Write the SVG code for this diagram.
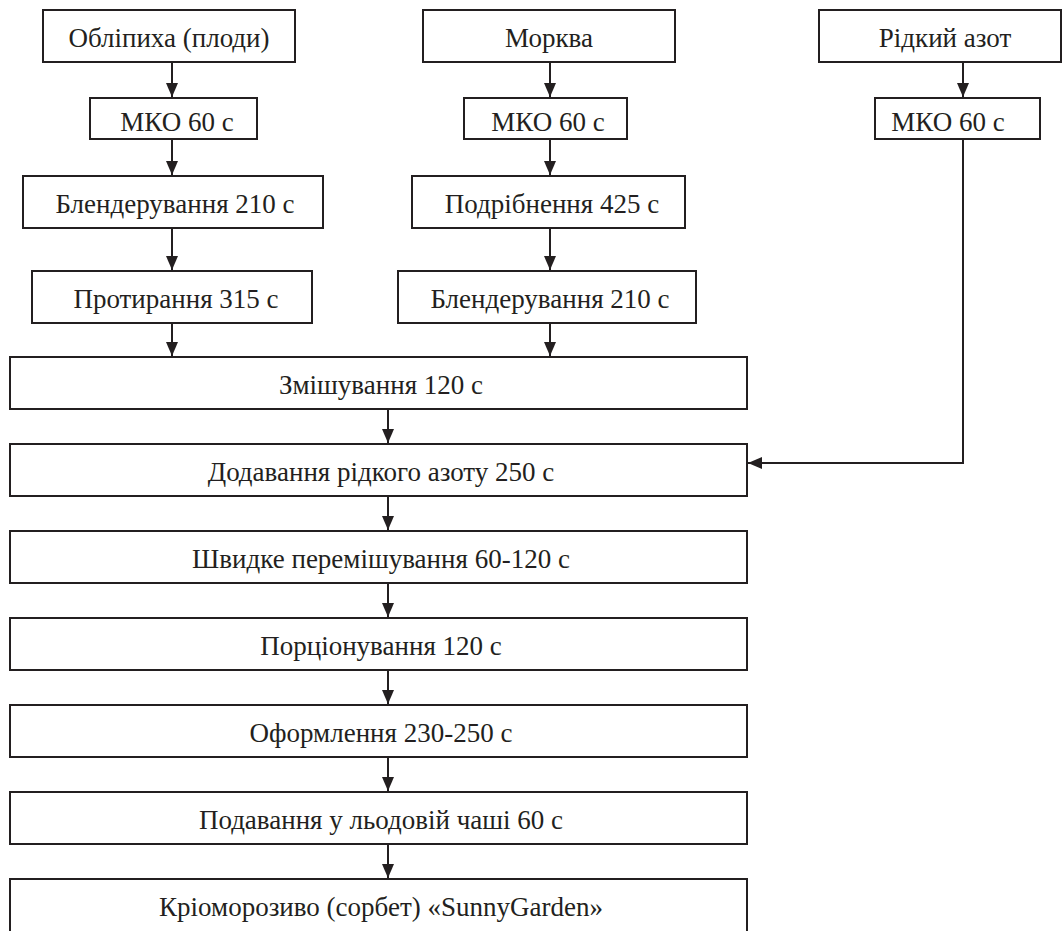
<svg xmlns="http://www.w3.org/2000/svg" width="1062" height="931" viewBox="0 0 1062 931">
<defs>
<style>
rect{fill:#fff;stroke:#231f20;stroke-width:2}
text{font-family:"Liberation Serif","Times New Roman",serif;font-size:27px;fill:#231f20;text-anchor:middle}
.c{fill:none;stroke:#231f20;stroke-width:2;marker-end:url(#ah)}
</style>
<marker id="ah" markerUnits="userSpaceOnUse" markerWidth="14" markerHeight="12" refX="14" refY="6" orient="auto">
<path d="M0,0 L14,6 L0,12 z" fill="#231f20"/>
</marker>
</defs>
<rect x="0" y="0" width="1062" height="931" style="stroke:none"/>
<g id="connectors">
<line class="c" x1="172" y1="62" x2="172" y2="97"/>
<line class="c" x1="172" y1="139" x2="172" y2="175"/>
<line class="c" x1="172" y1="228" x2="172" y2="270"/>
<line class="c" x1="172" y1="323" x2="172" y2="356"/>
<line class="c" x1="550" y1="62" x2="550" y2="97"/>
<line class="c" x1="550" y1="139" x2="550" y2="175"/>
<line class="c" x1="550" y1="228" x2="550" y2="270"/>
<line class="c" x1="550" y1="323" x2="550" y2="356"/>
<line class="c" x1="963" y1="62" x2="963" y2="97"/>
<polyline class="c" points="963,139 963,463 748,463"/>
<line class="c" x1="388" y1="409" x2="388" y2="443"/>
<line class="c" x1="388" y1="496" x2="388" y2="530"/>
<line class="c" x1="388" y1="583" x2="388" y2="617"/>
<line class="c" x1="388" y1="670" x2="388" y2="704"/>
<line class="c" x1="388" y1="757" x2="388" y2="791"/>
<line class="c" x1="388" y1="844" x2="388" y2="878"/>
</g>
<g id="n1"><rect x="43" y="10" width="252" height="52"/><text x="169" y="47">Обліпиха (плоди)</text></g>
<g id="n2"><rect x="90" y="98" width="167" height="41"/><text x="177" y="131">МКО 60 с</text></g>
<g id="n3"><rect x="23" y="176" width="300" height="52"/><text x="175" y="213">Блендерування 210 с</text></g>
<g id="n4"><rect x="32" y="271" width="280" height="52"/><text x="176" y="308">Протирання 315 с</text></g>
<g id="n5"><rect x="423" y="10" width="252" height="52"/><text x="549" y="47">Морква</text></g>
<g id="n6"><rect x="464" y="98" width="163" height="41"/><text x="548" y="131">МКО 60 с</text></g>
<g id="n7"><rect x="412" y="176" width="273" height="52"/><text x="552" y="213">Подрібнення 425 с</text></g>
<g id="n8"><rect x="398" y="271" width="298" height="52"/><text x="550" y="308">Блендерування 210 с</text></g>
<g id="n9"><rect x="819" y="10" width="242" height="52"/><text x="945" y="47">Рідкий азот</text></g>
<g id="n10"><rect x="875" y="98" width="165" height="41"/><text x="948" y="131">МКО 60 с</text></g>
<g id="n11"><rect x="10" y="357" width="737" height="52"/><text x="381" y="394">Змішування 120 с</text></g>
<g id="n12"><rect x="10" y="444" width="737" height="52"/><text x="381" y="481">Додавання рідкого азоту 250 с</text></g>
<g id="n13"><rect x="10" y="531" width="737" height="52"/><text x="381" y="568">Швидке перемішування 60-120 с</text></g>
<g id="n14"><rect x="10" y="618" width="737" height="52"/><text x="381" y="655">Порціонування 120 с</text></g>
<g id="n15"><rect x="10" y="705" width="737" height="52"/><text x="381" y="742">Оформлення 230-250 с</text></g>
<g id="n16"><rect x="10" y="792" width="737" height="52"/><text x="381" y="829">Подавання у льодовій чаші 60 с</text></g>
<g id="n17"><rect x="10" y="879" width="737" height="60"/><text x="381" y="916">Кріоморозиво (сорбет) «SunnyGarden»</text></g>
</svg>
